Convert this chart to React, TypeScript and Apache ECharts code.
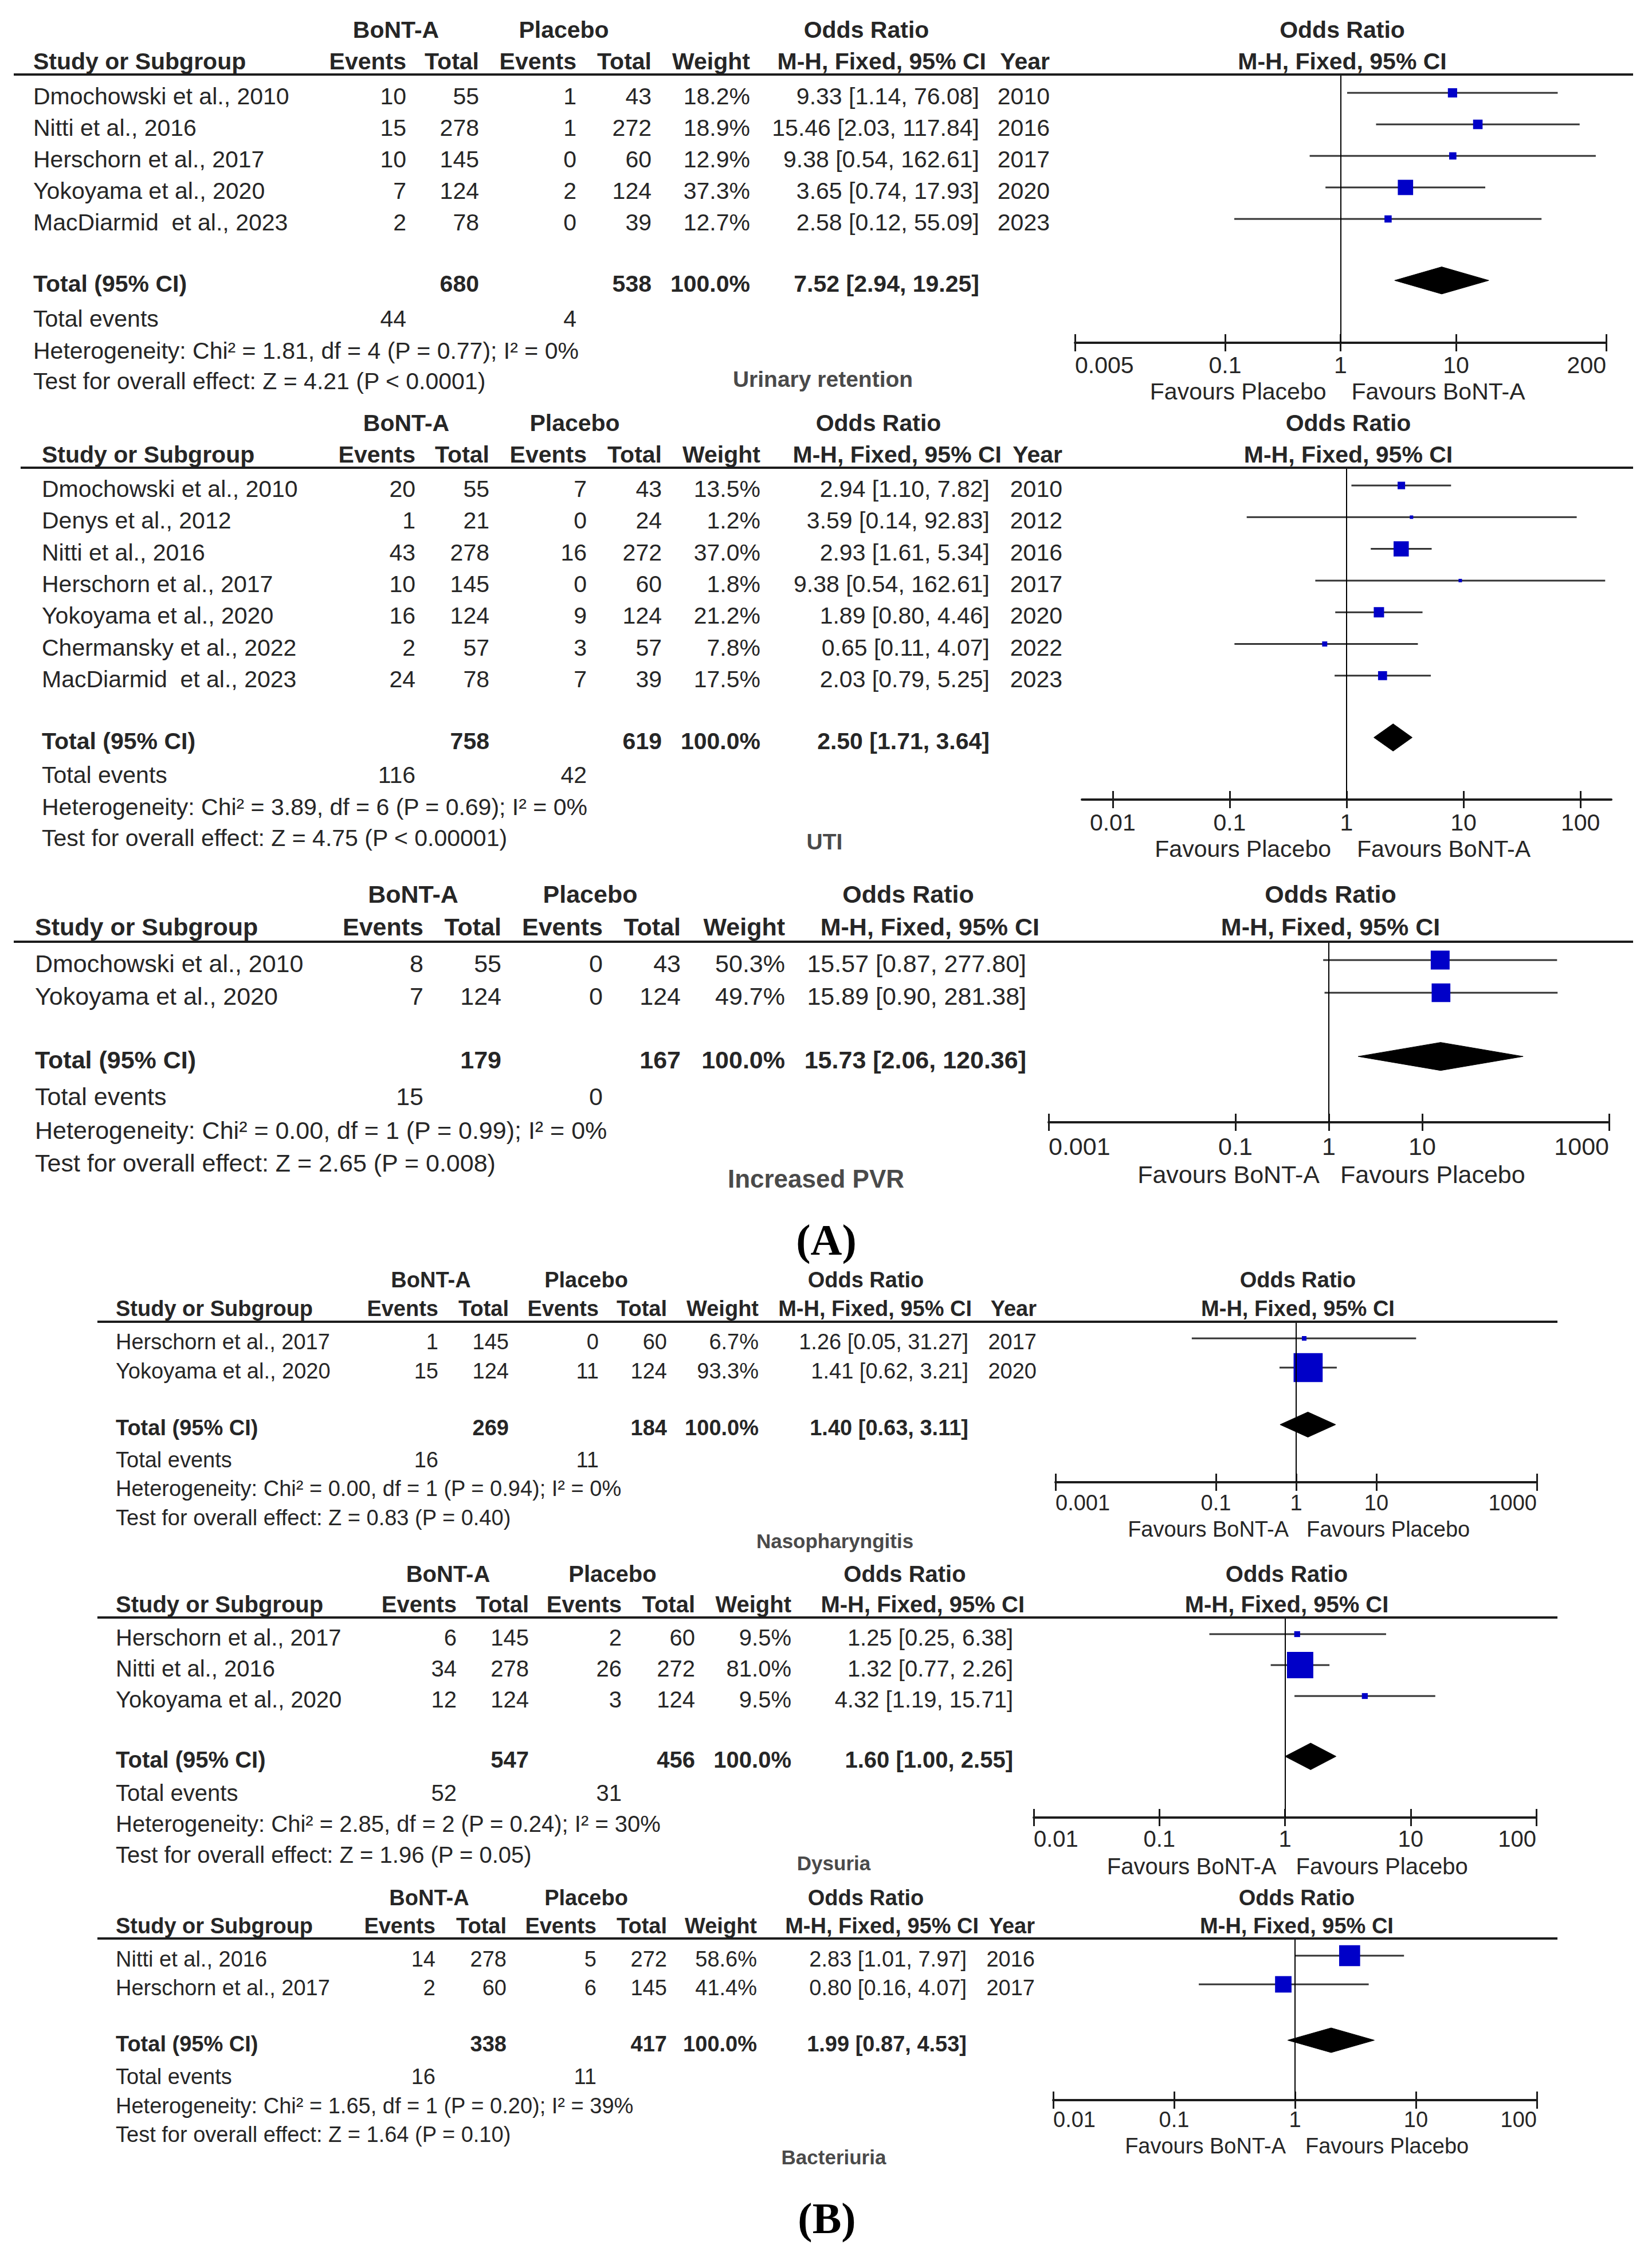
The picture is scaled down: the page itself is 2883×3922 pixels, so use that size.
import React, { useEffect, useRef } from "react";
import * as echarts from "echarts";

const W = 2883;
const H = 3922;
const SANS = '"Liberation Sans", Arial, Helvetica, sans-serif';
const SERIF = '"Liberation Serif", "Times New Roman", serif';
const TEXT = "#262626";
const LABEL = "#4a4a4a";
const AXIS = "#1c1c1c";
const CI_COLOR = "#333333";
const BOX = "#0000c8";

// ---------------- Panel A1: Urinary retention ----------------
const urStudies = ["Dmochowski et al., 2010", "Nitti et al., 2016", "Herschorn et al., 2017", "Yokoyama et al., 2020", "MacDiarmid  et al., 2023"];
const urBontEvents = [10, 15, 10, 7, 2];
const urBontTotal = [55, 278, 145, 124, 78];
const urPlacEvents = [1, 1, 0, 2, 0];
const urPlacTotal = [43, 272, 60, 124, 39];
const urWeight = [18.2, 18.9, 12.9, 37.3, 12.7];
const urOR = [9.33, 15.46, 9.38, 3.65, 2.58];
const urLow = [1.14, 2.03, 0.54, 0.74, 0.12];
const urHigh = [76.08, 117.84, 162.61, 17.93, 55.09];
const urYear = [2010, 2016, 2017, 2020, 2023];
const urTotals = [680, 538];
const urPooled = [7.52, 2.94, 19.25];
const urEvents = [44, 4];
const urHet = "Heterogeneity: Chi² = 1.81, df = 4 (P = 0.77); I² = 0%";
const urTest = "Test for overall effect: Z = 4.21 (P < 0.0001)";
const urTicks = [0.005, 0.1, 1, 10, 200];
const urTickLabels = ["0.005", "0.1", "1", "10", "200"];

// ---------------- Panel A2: UTI ----------------
const utiStudies = ["Dmochowski et al., 2010", "Denys et al., 2012", "Nitti et al., 2016", "Herschorn et al., 2017", "Yokoyama et al., 2020", "Chermansky et al., 2022", "MacDiarmid  et al., 2023"];
const utiBontEvents = [20, 1, 43, 10, 16, 2, 24];
const utiBontTotal = [55, 21, 278, 145, 124, 57, 78];
const utiPlacEvents = [7, 0, 16, 0, 9, 3, 7];
const utiPlacTotal = [43, 24, 272, 60, 124, 57, 39];
const utiWeight = [13.5, 1.2, 37.0, 1.8, 21.2, 7.8, 17.5];
const utiOR = [2.94, 3.59, 2.93, 9.38, 1.89, 0.65, 2.03];
const utiLow = [1.10, 0.14, 1.61, 0.54, 0.80, 0.11, 0.79];
const utiHigh = [7.82, 92.83, 5.34, 162.61, 4.46, 4.07, 5.25];
const utiYear = [2010, 2012, 2016, 2017, 2020, 2022, 2023];
const utiTotals = [758, 619];
const utiPooled = [2.50, 1.71, 3.64];
const utiEvents = [116, 42];
const utiHet = "Heterogeneity: Chi² = 3.89, df = 6 (P = 0.69); I² = 0%";
const utiTest = "Test for overall effect: Z = 4.75 (P < 0.00001)";
const utiTicks = [0.01, 0.1, 1, 10, 100];
const utiTickLabels = ["0.01", "0.1", "1", "10", "100"];

// ---------------- Panel A3: Increased PVR ----------------
const pvrStudies = ["Dmochowski et al., 2010", "Yokoyama et al., 2020"];
const pvrBontEvents = [8, 7];
const pvrBontTotal = [55, 124];
const pvrPlacEvents = [0, 0];
const pvrPlacTotal = [43, 124];
const pvrWeight = [50.3, 49.7];
const pvrOR = [15.57, 15.89];
const pvrLow = [0.87, 0.90];
const pvrHigh = [277.80, 281.38];
const pvrTotals = [179, 167];
const pvrPooled = [15.73, 2.06, 120.36];
const pvrEvents = [15, 0];
const pvrHet = "Heterogeneity: Chi² = 0.00, df = 1 (P = 0.99); I² = 0%";
const pvrTest = "Test for overall effect: Z = 2.65 (P = 0.008)";
const pvrTicks = [0.001, 0.1, 1, 10, 1000];
const pvrTickLabels = ["0.001", "0.1", "1", "10", "1000"];

// ---------------- Panel B1: Nasopharyngitis ----------------
const nasoStudies = ["Herschorn et al., 2017", "Yokoyama et al., 2020"];
const nasoBontEvents = [1, 15];
const nasoBontTotal = [145, 124];
const nasoPlacEvents = [0, 11];
const nasoPlacTotal = [60, 124];
const nasoWeight = [6.7, 93.3];
const nasoOR = [1.26, 1.41];
const nasoLow = [0.05, 0.62];
const nasoHigh = [31.27, 3.21];
const nasoYear = [2017, 2020];
const nasoTotals = [269, 184];
const nasoPooled = [1.40, 0.63, 3.11];
const nasoEvents = [16, 11];
const nasoHet = "Heterogeneity: Chi² = 0.00, df = 1 (P = 0.94); I² = 0%";
const nasoTest = "Test for overall effect: Z = 0.83 (P = 0.40)";
const nasoTicks = [0.001, 0.1, 1, 10, 1000];
const nasoTickLabels = ["0.001", "0.1", "1", "10", "1000"];

// ---------------- Panel B2: Dysuria ----------------
const dysStudies = ["Herschorn et al., 2017", "Nitti et al., 2016", "Yokoyama et al., 2020"];
const dysBontEvents = [6, 34, 12];
const dysBontTotal = [145, 278, 124];
const dysPlacEvents = [2, 26, 3];
const dysPlacTotal = [60, 272, 124];
const dysWeight = [9.5, 81.0, 9.5];
const dysOR = [1.25, 1.32, 4.32];
const dysLow = [0.25, 0.77, 1.19];
const dysHigh = [6.38, 2.26, 15.71];
const dysTotals = [547, 456];
const dysPooled = [1.60, 1.00, 2.55];
const dysEvents = [52, 31];
const dysHet = "Heterogeneity: Chi² = 2.85, df = 2 (P = 0.24); I² = 30%";
const dysTest = "Test for overall effect: Z = 1.96 (P = 0.05)";
const dysTicks = [0.01, 0.1, 1, 10, 100];
const dysTickLabels = ["0.01", "0.1", "1", "10", "100"];

// ---------------- Panel B3: Bacteriuria ----------------
const bacStudies = ["Nitti et al., 2016", "Herschorn et al., 2017"];
const bacBontEvents = [14, 2];
const bacBontTotal = [278, 60];
const bacPlacEvents = [5, 6];
const bacPlacTotal = [272, 145];
const bacWeight = [58.6, 41.4];
const bacOR = [2.83, 0.80];
const bacLow = [1.01, 0.16];
const bacHigh = [7.97, 4.07];
const bacYear = [2016, 2017];
const bacTotals = [338, 417];
const bacPooled = [1.99, 0.87, 4.53];
const bacEvents = [16, 11];
const bacHet = "Heterogeneity: Chi² = 1.65, df = 1 (P = 0.20); I² = 39%";
const bacTest = "Test for overall effect: Z = 1.64 (P = 0.10)";
const bacTicks = [0.01, 0.1, 1, 10, 100];
const bacTickLabels = ["0.01", "0.1", "1", "10", "100"];

const FAV_PB = ["Favours Placebo", "Favours BoNT-A"];
const FAV_BP = ["Favours BoNT-A", "Favours Placebo"];

// Panels: data + layout (layout in page pixels)
const PANELS: any[] = [
  {
    studies: urStudies, bEv: urBontEvents, bTot: urBontTotal, pEv: urPlacEvents, pTot: urPlacTotal,
    weight: urWeight, or: urOR, lo: urLow, hi: urHigh, year: urYear, totals: urTotals, pooled: urPooled,
    events: urEvents, het: urHet, test: urTest, ticks: urTicks, tickLabels: urTickLabels,
    label: "Urinary retention", favours: FAV_PB,
    L: {
      font: 41, labelFont: 39, hY1: 52, hY2: 107, ruleY: 130, ruleX0: 24, ruleX1: 2850,
      studyX: 58, cols: [709, 836, 1006, 1137, 1309, 1709, 1832], hdrCiDx: 12, hdrX: [691, 984, 1512],
      rowY0: 162, dy: 55, evY: 556, hetY: 612, testY: 665, labelX: 1436, labelY: 661,
      x0: 1876, x1: 2803, axisY: 598, min: 0.005, max: 200, alignEnds: true, margin: 18,
      favY: 683, gapL: 25, gapR: 19,
    },
  },
  {
    studies: utiStudies, bEv: utiBontEvents, bTot: utiBontTotal, pEv: utiPlacEvents, pTot: utiPlacTotal,
    weight: utiWeight, or: utiOR, lo: utiLow, hi: utiHigh, year: utiYear, totals: utiTotals, pooled: utiPooled,
    events: utiEvents, het: utiHet, test: utiTest, ticks: utiTicks, tickLabels: utiTickLabels,
    label: "UTI", favours: FAV_PB,
    L: {
      font: 41, labelFont: 39, hY1: 738, hY2: 793, ruleY: 816, ruleX0: 36, ruleX1: 2850,
      studyX: 73, cols: [725, 854, 1024, 1155, 1327, 1727, 1854], hdrCiDx: 21, hdrX: [709, 1003, 1533],
      rowY0: 847, dy: 55.3, evY: 1352, hetY: 1408, testY: 1462, labelX: 1439, labelY: 1468,
      x0: 1888, x1: 2812, axisY: 1395, min: 0.00545, max: 183.5, alignEnds: false, margin: 19,
      favY: 1481, gapL: 27, gapR: 18,
    },
  },
  {
    studies: pvrStudies, bEv: pvrBontEvents, bTot: pvrBontTotal, pEv: pvrPlacEvents, pTot: pvrPlacTotal,
    weight: pvrWeight, or: pvrOR, lo: pvrLow, hi: pvrHigh, year: null, totals: pvrTotals, pooled: pvrPooled,
    events: pvrEvents, het: pvrHet, test: pvrTest, ticks: pvrTicks, tickLabels: pvrTickLabels,
    label: "Increased PVR", favours: FAV_BP,
    L: {
      font: 43, labelFont: 44, hY1: 1560, hY2: 1617, ruleY: 1643, ruleX0: 24, ruleX1: 2850,
      studyX: 61, cols: [739, 875, 1052, 1188, 1370, 1791, 0], hdrCiDx: 23, hdrX: [721, 1030, 1585],
      rowY0: 1675, dy: 57, evY: 1913, hetY: 1972, testY: 2029, labelX: 1424, labelY: 2056,
      x0: 1830, x1: 2808, axisY: 1958, min: 0.001, max: 1000, alignEnds: true, margin: 20,
      favY: 2049, gapL: 16, gapR: 20,
    },
  },
  {
    studies: nasoStudies, bEv: nasoBontEvents, bTot: nasoBontTotal, pEv: nasoPlacEvents, pTot: nasoPlacTotal,
    weight: nasoWeight, or: nasoOR, lo: nasoLow, hi: nasoHigh, year: nasoYear, totals: nasoTotals, pooled: nasoPooled,
    events: nasoEvents, het: nasoHet, test: nasoTest, ticks: nasoTicks, tickLabels: nasoTickLabels,
    label: "Nasopharyngitis", favours: FAV_BP,
    L: {
      font: 38, labelFont: 35, hY1: 2233, hY2: 2283, ruleY: 2306, ruleX0: 170, ruleX1: 2718,
      studyX: 202, cols: [765, 888, 1045, 1164, 1324, 1690, 1809], hdrCiDx: 6, hdrX: [752, 1023, 1511],
      rowY0: 2335, dy: 51, evY: 2547, hetY: 2597, testY: 2648, labelX: 1457, labelY: 2688,
      x0: 1842, x1: 2682, axisY: 2586, min: 0.001, max: 1000, alignEnds: true, margin: 17,
      favY: 2668, gapL: 13, gapR: 18,
    },
  },
  {
    studies: dysStudies, bEv: dysBontEvents, bTot: dysBontTotal, pEv: dysPlacEvents, pTot: dysPlacTotal,
    weight: dysWeight, or: dysOR, lo: dysLow, hi: dysHigh, year: null, totals: dysTotals, pooled: dysPooled,
    events: dysEvents, het: dysHet, test: dysTest, ticks: dysTicks, tickLabels: dysTickLabels,
    label: "Dysuria", favours: FAV_BP,
    L: {
      font: 40, labelFont: 35, hY1: 2746, hY2: 2799, ruleY: 2822, ruleX0: 170, ruleX1: 2718,
      studyX: 202, cols: [797, 923, 1085, 1213, 1381, 1768, 0], hdrCiDx: 20, hdrX: [782, 1069, 1579],
      rowY0: 2851, dy: 54, evY: 3128, hetY: 3182, testY: 3236, labelX: 1455, labelY: 3250,
      x0: 1804, x1: 2681, axisY: 3171, min: 0.01, max: 100, alignEnds: true, margin: 17,
      favY: 3256, gapL: 15, gapR: 19,
    },
  },
  {
    studies: bacStudies, bEv: bacBontEvents, bTot: bacBontTotal, pEv: bacPlacEvents, pTot: bacPlacTotal,
    weight: bacWeight, or: bacOR, lo: bacLow, hi: bacHigh, year: bacYear, totals: bacTotals, pooled: bacPooled,
    events: bacEvents, het: bacHet, test: bacTest, ticks: bacTicks, tickLabels: bacTickLabels,
    label: "Bacteriuria", favours: FAV_BP,
    L: {
      font: 38, labelFont: 35, hY1: 3311, hY2: 3360, ruleY: 3382, ruleX0: 170, ruleX1: 2718,
      studyX: 202, cols: [760, 884, 1041, 1164, 1321, 1687, 1806], hdrCiDx: 21, hdrX: [749, 1023, 1511],
      rowY0: 3412, dy: 50, evY: 3623, hetY: 3674, testY: 3724, labelX: 1455, labelY: 3763,
      x0: 1838, x1: 2682, axisY: 3664, min: 0.01, max: 100, alignEnds: true, margin: 15,
      favY: 3744, gapL: 16, gapR: 18,
    },
  },
];

function txt(x: number, y: number, text: string, size: number, opt: any = {}) {
  const align = opt.align || "left";
  return {
    type: "text",
    x,
    y,
    silent: true,
    z: 10,
    style: {
      text,
      fontSize: size,
      fontFamily: opt.family || SANS,
      fontWeight: opt.bold ? "bold" : "normal",
      fill: opt.color || TEXT,
      align,
      textAlign: align,
      verticalAlign: "middle",
      textVerticalAlign: "middle",
    },
  };
}

function ciText(or: number, lo: number, hi: number) {
  return `${or.toFixed(2)} [${lo.toFixed(2)}, ${hi.toFixed(2)}]`;
}

function buildOption() {
  const grid: any[] = [];
  const xAxis: any[] = [];
  const yAxis: any[] = [];
  const series: any[] = [];
  const graphic: any[] = [];

  PANELS.forEach((p, i) => {
    const L = p.L;
    const n = p.studies.length;
    const totalRow = n + 0.95;
    const textOff = 6;
    const rowPx = (r: number) => L.rowY0 + r * L.dy + textOff;
    const lmin = Math.log10(L.min);
    const lmax = Math.log10(L.max);
    const oneX = L.x0 + ((L.x1 - L.x0) * (0 - lmin)) / (lmax - lmin);
    const plotCx = (L.x0 + L.x1) / 2 + 3;
    const f = L.font;

    // ---- grid & axes ----
    grid.push({
      left: L.x0,
      top: L.ruleY,
      width: L.x1 - L.x0,
      height: L.axisY - L.ruleY,
      containLabel: false,
      outerBoundsMode: "none",
    });
    const ticks = p.ticks;
    const labels = p.tickLabels;
    const fmt = (v: number) => {
      let best = 0;
      let bd = Infinity;
      ticks.forEach((t: number, k: number) => {
        const d = Math.abs(Math.log10(v) - Math.log10(t));
        if (d < bd) {
          bd = d;
          best = k;
        }
      });
      return labels[best];
    };
    xAxis.push({
      type: "log",
      logBase: 10,
      gridIndex: i,
      min: L.min,
      max: L.max,
      position: "bottom",
      axisLine: { show: true, onZero: false, lineStyle: { color: AXIS, width: 4 } },
      axisTick: { show: true, inside: false, length: 15, customValues: ticks, lineStyle: { color: AXIS, width: 3 } },
      axisLabel: {
        show: true,
        customValues: ticks,
        margin: L.margin,
        fontSize: f,
        fontFamily: SANS,
        color: TEXT,
        formatter: fmt,
        alignMinLabel: L.alignEnds ? "left" : "center",
        alignMaxLabel: L.alignEnds ? "right" : "center",
        hideOverlap: false,
      },
      splitLine: { show: false },
      minorTick: { show: false },
      minorSplitLine: { show: false },
    });
    xAxis.push({
      type: "log",
      logBase: 10,
      gridIndex: i,
      min: L.min,
      max: L.max,
      position: "bottom",
      axisLine: { show: false, onZero: false },
      axisTick: { show: true, inside: true, length: 15, customValues: ticks, lineStyle: { color: AXIS, width: 3 } },
      axisLabel: { show: false },
      splitLine: { show: false },
      minorTick: { show: false },
    });
    yAxis.push({
      type: "value",
      gridIndex: i,
      inverse: true,
      min: (L.ruleY - L.rowY0) / L.dy,
      max: (L.axisY - L.rowY0) / L.dy,
      show: false,
      splitLine: { show: false },
    });

    // ---- series ----
    const ciData = p.studies.map((_: string, k: number) => [p.lo[k], p.hi[k], k]);
    series.push({
      type: "custom",
      name: `ci${i}`,
      coordinateSystem: "cartesian2d",
      xAxisIndex: 2 * i,
      yAxisIndex: i,
      z: 2,
      silent: true,
      clip: false,
      encode: { x: [0, 1], y: 2 },
      data: ciData,
      renderItem: (params: any, api: any) => {
        const a = api.coord([api.value(0), api.value(2)]);
        const b = api.coord([api.value(1), api.value(2)]);
        return {
          type: "line",
          shape: { x1: a[0], y1: a[1], x2: b[0], y2: b[1] },
          style: { stroke: CI_COLOR, lineWidth: 3 },
        };
      },
      markLine: {
        silent: true,
        symbol: ["none", "none"],
        label: { show: false },
        lineStyle: { color: "#000", width: 2, type: "solid" },
        data: [{ xAxis: 1 }],
        animation: false,
      },
    });
    series.push({
      type: "scatter",
      name: `box${i}`,
      xAxisIndex: 2 * i,
      yAxisIndex: i,
      z: 3,
      silent: true,
      symbol: "rect",
      symbolSize: (val: number[]) => Math.max(6, 2.12 * Math.pow(val[2], 0.7)),
      itemStyle: { color: BOX, opacity: 1 },
      data: p.studies.map((_: string, k: number) => [p.or[k], k, p.weight[k]]),
    });
    series.push({
      type: "custom",
      name: `diamond${i}`,
      coordinateSystem: "cartesian2d",
      xAxisIndex: 2 * i,
      yAxisIndex: i,
      z: 3,
      silent: true,
      clip: false,
      encode: { x: [0, 1, 2], y: 3 },
      data: [[p.pooled[1], p.pooled[0], p.pooled[2], totalRow]],
      renderItem: (params: any, api: any) => {
        const row = api.value(3);
        const pl = api.coord([api.value(0), row]);
        const pt = api.coord([api.value(1), row - 0.43]);
        const pr = api.coord([api.value(2), row]);
        const pb = api.coord([api.value(1), row + 0.43]);
        return {
          type: "polygon",
          shape: { points: [pl, pt, pr, pb] },
          style: { fill: "#000", stroke: "#000", lineWidth: 1 },
        };
      },
    });

    // ---- table text ----
    const c = L.cols;
    const hasYear = !!p.year;
    // header row 1
    graphic.push(txt(L.hdrX[0], L.hY1, "BoNT-A", f, { bold: true, align: "center" }));
    graphic.push(txt(L.hdrX[1], L.hY1, "Placebo", f, { bold: true, align: "center" }));
    graphic.push(txt(L.hdrX[2], L.hY1, "Odds Ratio", f, { bold: true, align: "center" }));
    graphic.push(txt(plotCx, L.hY1, "Odds Ratio", f, { bold: true, align: "center" }));
    // header row 2
    graphic.push(txt(L.studyX, L.hY2, "Study or Subgroup", f, { bold: true }));
    graphic.push(txt(c[0], L.hY2, "Events", f, { bold: true, align: "right" }));
    graphic.push(txt(c[1], L.hY2, "Total", f, { bold: true, align: "right" }));
    graphic.push(txt(c[2], L.hY2, "Events", f, { bold: true, align: "right" }));
    graphic.push(txt(c[3], L.hY2, "Total", f, { bold: true, align: "right" }));
    graphic.push(txt(c[4], L.hY2, "Weight", f, { bold: true, align: "right" }));
    graphic.push(txt(c[5] + L.hdrCiDx, L.hY2, "M-H, Fixed, 95% CI", f, { bold: true, align: "right" }));
    if (hasYear) graphic.push(txt(c[6], L.hY2, "Year", f, { bold: true, align: "right" }));
    graphic.push(txt(plotCx, L.hY2, "M-H, Fixed, 95% CI", f, { bold: true, align: "center" }));
    // rule line
    graphic.push({
      type: "line",
      silent: true,
      z: 10,
      shape: { x1: L.ruleX0, y1: L.ruleY, x2: L.ruleX1, y2: L.ruleY },
      style: { stroke: AXIS, lineWidth: 4 },
    });
    // study rows
    p.studies.forEach((s: string, k: number) => {
      const y = rowPx(k);
      graphic.push(txt(L.studyX, y, s, f));
      graphic.push(txt(c[0], y, String(p.bEv[k]), f, { align: "right" }));
      graphic.push(txt(c[1], y, String(p.bTot[k]), f, { align: "right" }));
      graphic.push(txt(c[2], y, String(p.pEv[k]), f, { align: "right" }));
      graphic.push(txt(c[3], y, String(p.pTot[k]), f, { align: "right" }));
      graphic.push(txt(c[4], y, `${p.weight[k].toFixed(1)}%`, f, { align: "right" }));
      graphic.push(txt(c[5], y, ciText(p.or[k], p.lo[k], p.hi[k]), f, { align: "right" }));
      if (hasYear) graphic.push(txt(c[6], y, String(p.year[k]), f, { align: "right" }));
    });
    // total row
    const ty = rowPx(totalRow);
    graphic.push(txt(L.studyX, ty, "Total (95% CI)", f, { bold: true }));
    graphic.push(txt(c[1], ty, String(p.totals[0]), f, { bold: true, align: "right" }));
    graphic.push(txt(c[3], ty, String(p.totals[1]), f, { bold: true, align: "right" }));
    graphic.push(txt(c[4], ty, "100.0%", f, { bold: true, align: "right" }));
    graphic.push(txt(c[5], ty, ciText(p.pooled[0], p.pooled[1], p.pooled[2]), f, { bold: true, align: "right" }));
    // total events, heterogeneity, test
    graphic.push(txt(L.studyX, L.evY, "Total events", f));
    graphic.push(txt(c[0], L.evY, String(p.events[0]), f, { align: "right" }));
    graphic.push(txt(c[2], L.evY, String(p.events[1]), f, { align: "right" }));
    graphic.push(txt(L.studyX, L.hetY, p.het, f));
    graphic.push(txt(L.studyX, L.testY, p.test, f));
    // outcome label
    graphic.push(txt(L.labelX, L.labelY, p.label, L.labelFont, { bold: true, align: "center", color: LABEL }));
    // favours
    graphic.push(txt(oneX - L.gapL, L.favY, p.favours[0], f, { align: "right" }));
    graphic.push(txt(oneX + L.gapR, L.favY, p.favours[1], f, { align: "left" }));
  });

  graphic.push(txt(1442, 2163, "(A)", 76, { family: SERIF, bold: true, align: "center", color: "#000" }));
  graphic.push(txt(1443, 3870, "(B)", 76, { family: SERIF, bold: true, align: "center", color: "#000" }));

  return {
    animation: false,
    backgroundColor: "#ffffff",
    textStyle: { fontFamily: SANS },
    grid,
    xAxis,
    yAxis,
    series,
    graphic: { elements: graphic },
  };
}

export default function App() {
  const ref = useRef<HTMLDivElement>(null);
  useEffect(() => {
    if (!ref.current) return;
    const chart = echarts.init(ref.current, null, { renderer: "svg", width: W, height: H });
    chart.setOption(buildOption() as any);
    return () => {
      chart.dispose();
    };
  }, []);
  return (
    <div
      ref={ref}
      style={{ position: "absolute", left: 0, top: 0, width: W, height: H, background: "#fff" }}
    />
  );
}
